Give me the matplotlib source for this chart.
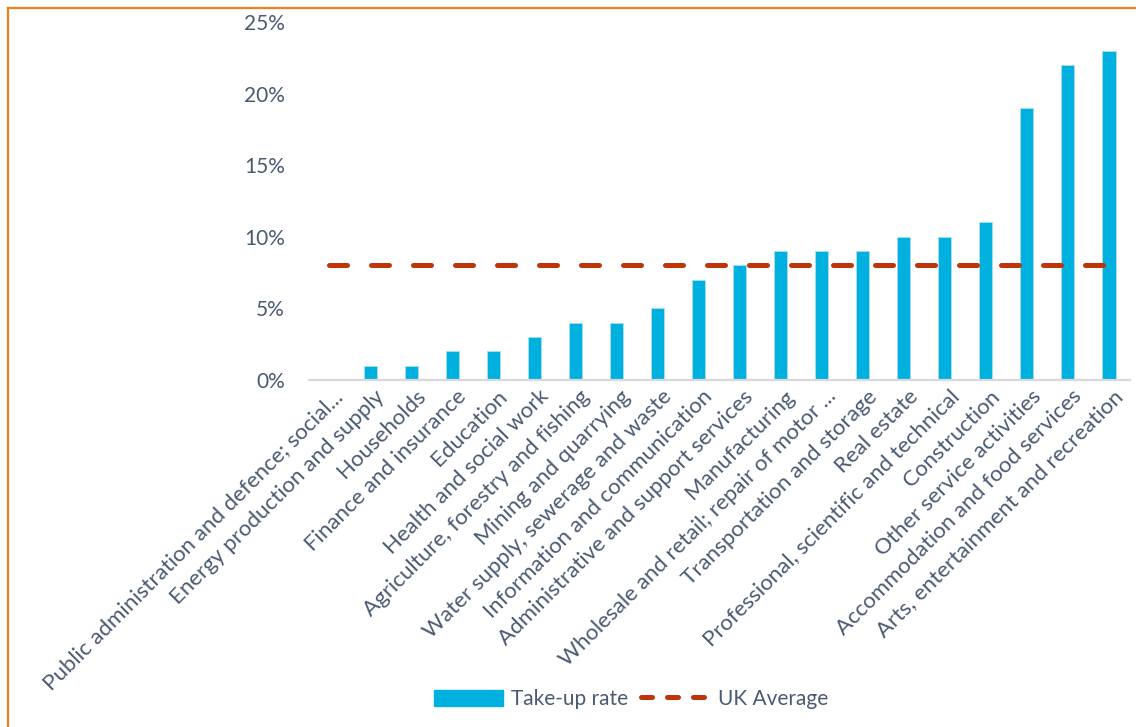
import matplotlib
matplotlib.use("Agg")
import matplotlib.pyplot as plt
import matplotlib.transforms as mtransforms
from matplotlib.lines import Line2D
from matplotlib.patches import Patch
from matplotlib.ticker import FuncFormatter

sectors = [
    "Public administration and defence; social...",
    "Energy production and supply",
    "Households",
    "Finance and insurance",
    "Education",
    "Health and social work",
    "Agriculture, forestry and fishing",
    "Mining and quarrying",
    "Water supply, sewerage and waste",
    "Information and communication",
    "Administrative and support services",
    "Manufacturing",
    "Wholesale and retail; repair of motor ...",
    "Transportation and storage",
    "Real estate",
    "Professional, scientific and technical",
    "Construction",
    "Other service activities",
    "Accommodation and food services",
    "Arts, entertainment and recreation",
]
take_up = [0, 1, 1, 2, 2, 3, 4, 4, 5, 7, 8, 9, 9, 9, 10, 10, 11, 19, 22, 23]
uk_average = [8] * len(sectors)

text_col = "#4A5A72"
bar_col = "#00B0DE"
line_col = "#C03508"

plt.rcParams["font.family"] = ["Lato", "DejaVu Sans"]

fig = plt.figure(figsize=(11.36, 7.27), dpi=100)
ax = fig.add_axes([308.5 / 1136, 1 - 380 / 727, 821 / 1136, 358 / 727])

x = list(range(len(sectors)))
ax.bar(x, [v / 100 for v in take_up], width=0.32, color=bar_col,
       edgecolor="#A8E0F2", linewidth=0.6, zorder=2)
ax.plot(x, [v / 100 for v in uk_average], color=line_col, linewidth=3.6,
        dashes=(3.6, 4.8), dash_capstyle="round", zorder=3)

ax.set_xlim(-0.5, len(sectors) - 0.5)
ax.set_ylim(0, 0.25)
ax.set_yticks([0, 0.05, 0.10, 0.15, 0.20, 0.25])
ax.yaxis.set_major_formatter(FuncFormatter(lambda v, p: f"{v * 100:.0f}%"))
ax.tick_params(axis="y", length=0, pad=17, labelsize=15, labelcolor=text_col)
ax.tick_params(axis="x", length=0, pad=6, labelsize=16, labelcolor=text_col)

ax.set_xticks(x)
ax.set_xticklabels(sectors, rotation=45, ha="right", va="center",
                   rotation_mode="anchor")
offset = mtransforms.ScaledTranslation(11 / 100, -5 / 100, fig.dpi_scale_trans)
for lbl in ax.get_xticklabels():
    lbl.set_transform(lbl.get_transform() + offset)

for s in ["top", "right", "left"]:
    ax.spines[s].set_visible(False)
ax.spines["bottom"].set_color("#D9D9D9")
ax.spines["bottom"].set_linewidth(1.6)

handles = [
    Patch(facecolor=bar_col, edgecolor=bar_col),
    Line2D([0], [0], color=line_col, linewidth=3.6, dashes=(2.2, 3.0),
           dash_capstyle="round"),
]
fig.legend(handles, ["Take-up rate", "UK Average"], loc="center",
           bbox_to_anchor=(631 / 1136, 1 - 699 / 727), ncol=2, frameon=False,
           fontsize=15, labelcolor=text_col, handlelength=3.3,
           handleheight=0.8, columnspacing=0.6, handletextpad=0.4)

# orange frame edges (top and left)
fig.add_artist(Line2D([8 / 1136, 1], [1 - 8 / 727, 1 - 8 / 727],
                      transform=fig.transFigure, color="#F07F1A", linewidth=1.6))
fig.add_artist(Line2D([8 / 1136, 8 / 1136], [0, 1 - 8 / 727],
                      transform=fig.transFigure, color="#F07F1A", linewidth=1.6))

fig.savefig("out.png", dpi=100)
